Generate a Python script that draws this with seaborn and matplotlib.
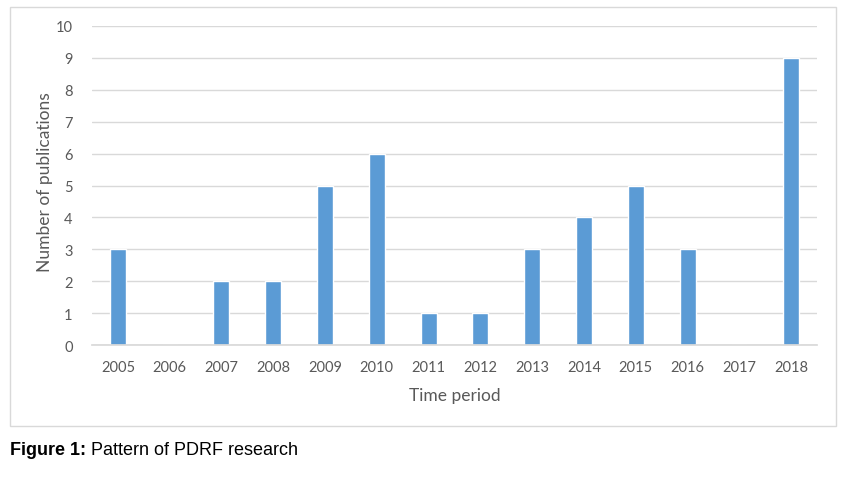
import numpy as np
import pandas as pd
import matplotlib
matplotlib.use("Agg")
import matplotlib.pyplot as plt
import seaborn as sns
from matplotlib.patches import Rectangle

years = ["2005", "2006", "2007", "2008", "2009", "2010", "2011",
         "2012", "2013", "2014", "2015", "2016", "2017", "2018"]
publications = [3, 0, 2, 2, 5, 6, 1, 1, 3, 4, 5, 3, 0, 9]
y_ticks = list(range(0, 11))

sns.set_theme(style="white")
plt.rcParams['font.family'] = ['Lato', 'DejaVu Sans']

df = pd.DataFrame({"year": years, "count": publications})

W, H = 844, 485
fig = plt.figure(figsize=(W / 100, H / 100), dpi=100)
ax = fig.add_axes([92 / W, 1 - 346 / H, (817 - 92) / W, (346 - 27) / H])

sns.barplot(data=df, x="year", y="count", color="#5b9bd5", width=0.31,
            saturation=1, ax=ax)

ax.set_ylim(0, 10)
ax.set_xlim(-0.5, len(years) - 0.5)
ax.set_yticks(y_ticks)
ax.yaxis.grid(True, color="#d9d9d9", linewidth=1)
ax.set_axisbelow(True)
for s in ["top", "right", "left"]:
    ax.spines[s].set_visible(False)
ax.spines["bottom"].set_color("#d9d9d9")
ax.tick_params(axis="both", length=0, labelsize=10.5, colors="#595959")
ax.tick_params(axis="x", pad=11)
ax.tick_params(axis="y", pad=14)
ax.set_xlabel("Time period", fontsize=12.5, color="#595959", labelpad=9)
ax.set_ylabel("Number of publications", fontsize=12.5, color="#595959")
ax.yaxis.set_label_coords((53 - 92) / 725, 0.515)

# outer chart frame
fig.patches.append(Rectangle((9.5 / W, 1 - 427 / H), (836 - 9.5) / W, (427 - 7.5) / H,
                             transform=fig.transFigure, fill=False,
                             edgecolor="#d9d9d9", linewidth=1))

cap = fig.text(10 / W, 1 - 451 / H, "Figure 1: ", fontsize=13, fontweight="bold",
               family="Liberation Sans", va="center", ha="left", color="black")
fig.canvas.draw()
bb = cap.get_window_extent().transformed(fig.transFigure.inverted())
fig.text(bb.x1, 1 - 451 / H, "Pattern of PDRF research", fontsize=13,
         family="Liberation Sans", va="center", ha="left", color="black")

fig.savefig("out.png", dpi=100)
